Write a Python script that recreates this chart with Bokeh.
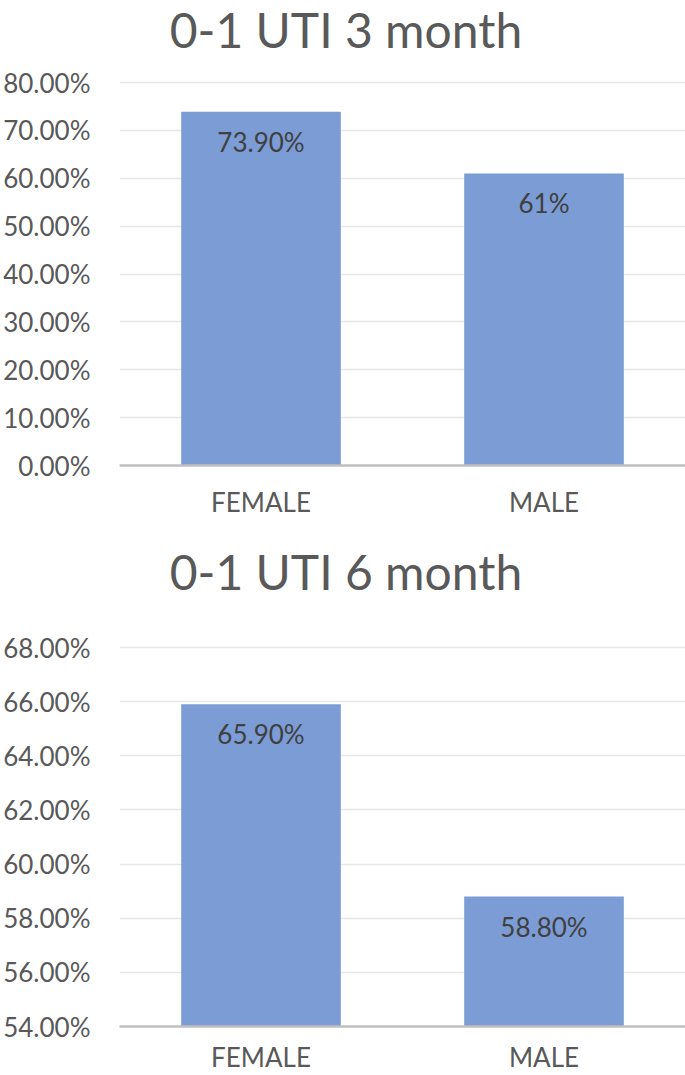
from bokeh.plotting import figure
from bokeh.layouts import column
from bokeh.models import FixedTicker, NumeralTickFormatter, ColumnDataSource, Range1d, Div
from bokeh.core.properties import value
from bokeh.embed import file_html
from bokeh.resources import INLINE

# ---- data ----
categories = ["FEMALE", "MALE"]
title_3m = "0-1 UTI 3 month"
values_3m = [0.739, 0.61]
labels_3m = ["73.90%", "61%"]
ticks_3m = [0.0, 0.1, 0.2, 0.3, 0.4, 0.5, 0.6, 0.7, 0.8]

title_6m = "0-1 UTI 6 month"
values_6m = [0.659, 0.588]
labels_6m = ["65.90%", "58.80%"]
ticks_6m = [0.54, 0.56, 0.58, 0.60, 0.62, 0.64, 0.66, 0.68]

FONT = "Lato"
TXT = "#595959"
BAR = "#7B9CD5"


def make_title(text, height, line_height):
    return Div(text=text, width=685, height=height,
               styles={"font-family": FONT, "font-size": "48px", "color": TXT,
                       "text-align": "center", "line-height": f"{line_height}px",
                       "text-indent": "7px", "margin": "0", "padding": "0"})


def make_chart(values, labels, ticks, height, border_top, frame_h, border_bottom,
               label_standoff):
    src = ColumnDataSource(dict(cat=categories, val=values, lab=labels))
    span = ticks[-1] - ticks[0]
    # 3px of head-room above the top gridline so that it stays visible
    top = ticks[-1] + span * 3.0 / frame_h
    p = figure(x_range=categories, y_range=Range1d(ticks[0], top),
               width=685, height=height, output_backend="svg",
               toolbar_location=None,
               min_border_left=117, min_border_right=0,
               min_border_top=border_top, min_border_bottom=border_bottom)
    p.x_range.range_padding = 0
    p.vbar(x="cat", top="val", bottom=ticks[0], width=0.564, source=src,
           fill_color=BAR, line_color=None)
    p.text(x="cat", y="val", text="lab", source=src, text_align="center",
           text_baseline="middle", y_offset=30, text_font=value(FONT),
           text_font_size="26px", text_color="#404040")
    p.outline_line_color = None
    p.xgrid.grid_line_color = None
    p.ygrid.grid_line_color = "#E6E6E6"
    p.ygrid.grid_line_width = 1.5
    p.yaxis.ticker = FixedTicker(ticks=ticks)
    p.yaxis.formatter = NumeralTickFormatter(format="0.00%")
    p.yaxis.axis_line_color = None
    p.yaxis.major_tick_line_color = None
    p.yaxis.minor_tick_line_color = None
    p.yaxis.major_tick_out = 0
    p.yaxis.major_tick_in = 0
    p.yaxis.major_label_text_font = FONT
    p.yaxis.major_label_text_font_size = "26px"
    p.yaxis.major_label_text_color = TXT
    p.yaxis.major_label_standoff = 29
    p.xaxis.axis_line_color = "#BFBFBF"
    p.xaxis.axis_line_width = 2.5
    p.xaxis.major_tick_line_color = None
    p.xaxis.minor_tick_line_color = None
    p.xaxis.major_tick_out = 0
    p.xaxis.major_tick_in = 0
    p.xaxis.major_label_text_font = FONT
    p.xaxis.major_label_text_font_size = "26px"
    p.xaxis.major_label_text_color = TXT
    p.xaxis.major_label_standoff = label_standoff
    return p


# page layout: title1 0..60, chart1 60..540 (frame 79..465),
#              title2 540..620, chart2 620..1075 (frame 644..1026)
t1 = make_title(title_3m, 60, 59)
p1 = make_chart(values_3m, labels_3m, ticks_3m, 480, 19, 383, 75, 20)
t2 = make_title(title_6m, 80, 63)
p2 = make_chart(values_6m, labels_6m, ticks_6m, 455, 24, 379, 49, 14)

layout = column(t1, p1, t2, p2, spacing=0)
open("out.html", "w").write(file_html(layout, INLINE))
